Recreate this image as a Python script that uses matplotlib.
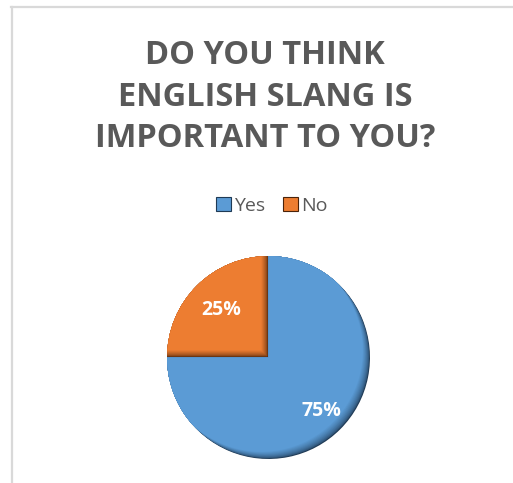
import matplotlib
matplotlib.use("Agg")
import numpy as np
import matplotlib.pyplot as plt
from matplotlib.colors import to_rgb
from matplotlib.lines import Line2D

# Survey answers
labels = ["Yes", "No"]
shares = [75, 25]
colors = ["#5B9BD5", "#ED7D31"]
rim_colors = ["#1F3A55", "#4A230A"]
label_dist = [0.74, 0.66]
title = "DO YOU THINK\nENGLISH SLANG IS\nIMPORTANT TO YOU?"

plt.rcParams["font.family"] = ["Open Sans", "DejaVu Sans"]

W, H = 513, 483
fig = plt.figure(figsize=(W / 100, H / 100), dpi=100)
fig.patch.set_facecolor("white")

# chart area border (top and left edges only show)
fig.add_artist(Line2D([11 / W, 1], [1 - 7 / H, 1 - 7 / H], color="#D9D9D9", lw=1.6))
fig.add_artist(Line2D([12 / W, 12 / W], [0, 1 - 7 / H], color="#D9D9D9", lw=1.6))

fig.text(265 / W, 1 - 97 / H, title, ha="center", va="center", fontsize=23.5,
         fontweight="bold", color="#595959", linespacing=1.34)

# pie axes
ax = fig.add_axes([164 / W, 22 / H, 209 / W, 207 / H])
ax.set_aspect("equal")

# dark base layer, then lighter layers nudged up-left for a soft bevel
rims, _ = ax.pie(shares, colors=rim_colors, startangle=90, counterclock=False,
                 wedgeprops=dict(linewidth=0))
steps = 9
for k in range(1, steps + 1):
    f = k / steps
    shift = 0.07 * f
    mix = f ** 0.55
    layer_cols = [tuple((1 - mix) * np.array(to_rgb(r)) + mix * np.array(to_rgb(c)))
                  for r, c in zip(rim_colors, colors)]
    tops, _ = ax.pie(shares, colors=layer_cols, startangle=90, counterclock=False,
                     center=(-shift, shift), wedgeprops=dict(linewidth=0))
    for top, rim in zip(tops, rims):
        top.set_clip_on(True)  # pie wedges come with clipping switched off
        top.set_clip_path(rim)

# percentage labels
for w, s, d in zip(rims, shares, label_dist):
    mid = np.deg2rad((w.theta1 + w.theta2) / 2)
    ax.text(d * np.cos(mid), d * np.sin(mid), f"{s}%", ha="center", va="center",
            color="white", fontsize=14, fontweight="bold")

ax.set_xlim(-1.02, 1.02)
ax.set_ylim(-1.02, 1.02)
ax.axis("off")

handles = [plt.Rectangle((0, 0), 1, 1, facecolor=c, edgecolor=r, linewidth=0.8)
           for c, r in zip(colors, rim_colors)]
fig.legend(handles, labels, loc="center", bbox_to_anchor=(272 / W, 1 - 206 / H),
           ncol=2, frameon=False, fontsize=14, handlelength=0.75, handleheight=0.75,
           handletextpad=0.2, columnspacing=0.9, labelcolor="#595959")

fig.savefig("out.png", dpi=100, facecolor="white")
